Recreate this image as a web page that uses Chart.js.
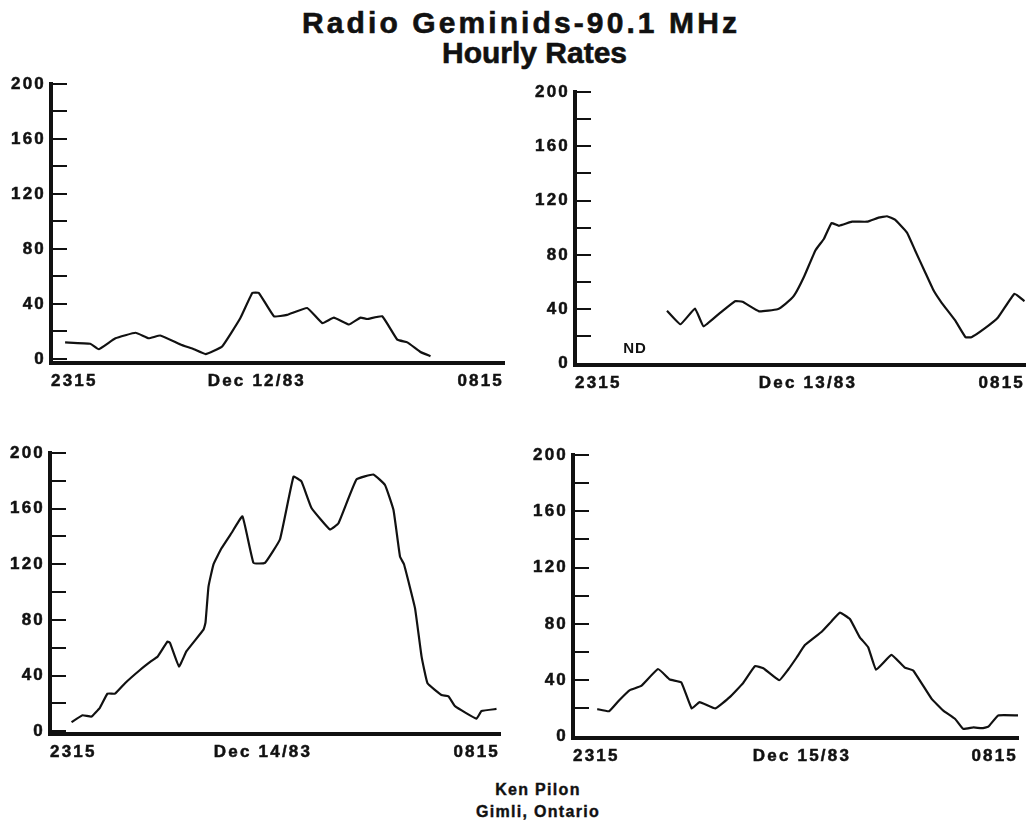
<!DOCTYPE html>
<html>
<head>
<meta charset="utf-8">
<script src="https://cdn.jsdelivr.net/npm/chart.js@4/dist/chart.umd.min.js"></script>
<style>
  body { margin: 0; background: #fff; width: 1027px; height: 820px; position: relative; overflow: hidden; }
  canvas { position: absolute; }
  .txt { position: absolute; white-space: nowrap; font-family: "Liberation Sans", Arial, sans-serif; font-weight: bold; color: #111; -webkit-text-stroke: 0.6px #111; }
</style>
</head>
<body>
<div class="txt" style="left:302px; top:8px; font-size:30px; line-height:30px; letter-spacing:3.1px;">Radio Geminids-90.1 MHz</div>
<div class="txt" style="left:442px; top:38px; font-size:30px; line-height:30px; letter-spacing:0px;">Hourly Rates</div>

<canvas id="c12" width="512" height="340" style="left:0; top:60px;"></canvas>
<canvas id="c13" width="515" height="340" style="left:512px; top:60px;"></canvas>
<canvas id="c14" width="512" height="340" style="left:0; top:430px;"></canvas>
<canvas id="c15" width="515" height="340" style="left:512px; top:430px;"></canvas>

<div class="txt" style="left:438px; width:200px; text-align:center; top:779px; font-size:16px; line-height:22px; letter-spacing:1.3px; -webkit-text-stroke:0.4px #111;">Ken Pilon<br>Gimli, Ontario</div>

<script>
// hours after 2315 UT, and meteors per hour
const times12 = [0.28, 0.78, 0.95, 1.28, 1.68, 1.94, 2.17, 2.57, 2.84, 3.07, 3.40, 3.76, 4.00, 4.13, 4.43, 4.69, 5.09, 5.39, 5.62, 5.92, 6.15, 6.28, 6.58, 6.88, 7.08, 7.34, 7.54];
const rates12 = [12, 11, 7, 15, 19, 15, 17, 10.5, 7, 3.5, 9, 29.5, 48, 48, 31, 32, 37, 26, 30, 25, 30, 29, 31, 14, 12, 5, 2];

const times13 = [1.84, 2.11, 2.40, 2.57, 2.89, 3.20, 3.35, 3.68, 4.05, 4.21, 4.38, 4.58, 4.81, 4.98, 5.13, 5.28, 5.54, 5.84, 6.07, 6.24, 6.40, 6.64, 6.80, 7.00, 7.17, 7.33, 7.60, 7.81, 7.93, 8.16, 8.46, 8.79, 8.99];
const rates13 = [39, 29, 40.5, 27.5, 37, 46, 45.5, 38.5, 40, 44, 50, 64, 83.5, 92, 103.5, 101.5, 104.5, 104.5, 107.5, 108.5, 106, 96.5, 83.5, 67.5, 54, 45, 32, 19.5, 19.5, 25, 34, 51.5, 46];

const times14 = [0.43, 0.65, 0.83, 1.00, 1.15, 1.30, 1.50, 1.80, 2.03, 2.15, 2.35, 2.40, 2.58, 2.73, 3.07, 3.11, 3.17, 3.27, 3.43, 3.63, 3.85, 4.07, 4.30, 4.60, 4.87, 5.03, 5.23, 5.60, 5.77, 6.13, 6.47, 6.70, 6.87, 7.00, 7.08, 7.30, 7.43, 7.55, 7.83, 7.97, 8.10, 8.53, 8.63, 8.93];
const rates14 = [6.5, 11.5, 10.5, 17, 27, 27, 34.5, 44, 50.5, 53.5, 64.5, 63.5, 46.5, 57.5, 73, 78, 104, 120, 131.5, 142.5, 154.5, 121, 121, 138, 183, 179.5, 160.5, 145, 149.5, 181, 184.5, 177, 159, 125.5, 120, 88.5, 54, 34.5, 26, 25, 18, 9, 14.5, 16];

const times15 = [0.49, 0.73, 0.94, 1.15, 1.38, 1.72, 1.96, 2.19, 2.40, 2.56, 2.88, 3.17, 3.44, 3.68, 3.85, 4.17, 4.35, 4.52, 4.69, 5.03, 5.23, 5.40, 5.60, 5.80, 5.97, 6.13, 6.44, 6.71, 6.88, 7.25, 7.49, 7.73, 7.89, 8.10, 8.27, 8.40, 8.60, 9.00];
const rates15 = [19.5, 18, 26, 33, 36, 48, 40.5, 38.5, 20, 24.5, 20, 28, 38, 50, 48.5, 40, 47.5, 56, 65, 74.5, 82, 88, 83.5, 70.5, 63.5, 47.5, 58, 49, 47, 27, 18.5, 12.5, 5.5, 6.5, 6, 7, 15, 15];

const yTicks = [0, 20, 40, 60, 80, 100, 120, 140, 160, 180, 200];
const dates = ['Dec 12/83', 'Dec 13/83', 'Dec 14/83', 'Dec 15/83'];
const startLabel = '2315';
const endLabel = '0815';

const FONT = '"Liberation Sans", Arial, sans-serif';
const INK = '#111';

// small tick marks drawn inside the y axis, plus the letter spacing of the typed labels
const plotExtras = {
    id: 'plotExtras',
    beforeDraw(chart) {
        chart.ctx.letterSpacing = '2.2px';
    },
    afterDraw(chart) {
        const ctx = chart.ctx;
        const y = chart.scales.y;
        const left = chart.chartArea.left;
        ctx.save();
        ctx.strokeStyle = INK;
        ctx.lineWidth = 2;
        y.ticks.forEach(t => {
            const py = Math.round(y.getPixelForValue(t.value));
            ctx.beginPath();
            ctx.moveTo(left, py);
            ctx.lineTo(left + 16, py);
            ctx.stroke();
        });
        const note = chart.options.plugins.plotExtras.note;
        if (note) {
            ctx.letterSpacing = '1px';
            ctx.font = 'bold 15px ' + FONT;
            ctx.fillStyle = INK;
            ctx.textAlign = 'center';
            ctx.textBaseline = 'middle';
            ctx.fillText(note.text, chart.scales.x.getPixelForValue(note.x), y.getPixelForValue(note.y));
        }
        ctx.restore();
    }
};

const tickFont = { family: FONT, size: 17, weight: 'bold' };

function makePanel(id, times, rates, date, box) {
    const points = times.map((t, i) => ({ x: t, y: rates[i] }));
    const canvas = document.getElementById(id);
    const xLabels = [startLabel, date, endLabel];
    return new Chart(canvas.getContext('2d'), {
        type: 'line',
        data: {
            datasets: [{
                data: points,
                borderColor: INK,
                borderWidth: 2.2,
                pointRadius: 0,
                tension: 0.1,
                fill: false
            }]
        },
        options: {
            responsive: false,
            animation: false,
            devicePixelRatio: 1,
            layout: { padding: { left: 0, top: box.top, right: box.right, bottom: 0 } },
            plugins: {
                legend: { display: false },
                tooltip: { enabled: false },
                plotExtras: { note: box.note }
            },
            scales: {
                x: {
                    type: 'linear',
                    min: 0,
                    max: 9,
                    grid: { display: false },
                    border: { color: INK, width: 4 },
                    afterBuildTicks: s => { s.ticks = [0, box.mid, 9].map(v => ({ value: v })); },
                    afterFit: s => { s.height = box.xh; },
                    ticks: {
                        autoSkip: false,
                        maxRotation: 0,
                        align: 'inner',
                        padding: 0,
                        color: INK,
                        textStrokeColor: INK,
                        textStrokeWidth: 0.5,
                        font: tickFont,
                        callback: (v, i) => xLabels[i]
                    }
                },
                y: {
                    min: box.ymin,
                    max: 200,
                    grid: { display: false },
                    border: { color: INK, width: 4 },
                    afterBuildTicks: s => { s.ticks = yTicks.map(v => ({ value: v })); },
                    afterFit: s => { s.width = box.left; },
                    ticks: {
                        autoSkip: false,
                        padding: -3,
                        color: INK,
                        textStrokeColor: INK,
                        textStrokeWidth: 0.5,
                        font: tickFont,
                        callback: v => (v % 40 === 0 ? String(v) : '')
                    }
                }
            }
        },
        plugins: [plotExtras]
    });
}

makePanel('c12', times12, rates12, dates[0], { left: 51, top: 24, right: 8, xh: 37, ymin: -3, mid: 4.09 });
makePanel('c13', times13, rates13, dates[1], { left: 63, top: 32, right: 2, xh: 35, ymin: -1, mid: 4.66, note: { text: 'ND', x: 1.2, y: 11 } });
makePanel('c14', times14, rates14, dates[2], { left: 50, top: 23, right: 12, xh: 36, ymin: -2, mid: 4.26 });
makePanel('c15', times15, rates15, dates[3], { left: 61, top: 25, right: 9, xh: 32, ymin: -1, mid: 4.63 });
</script>
</body>
</html>
